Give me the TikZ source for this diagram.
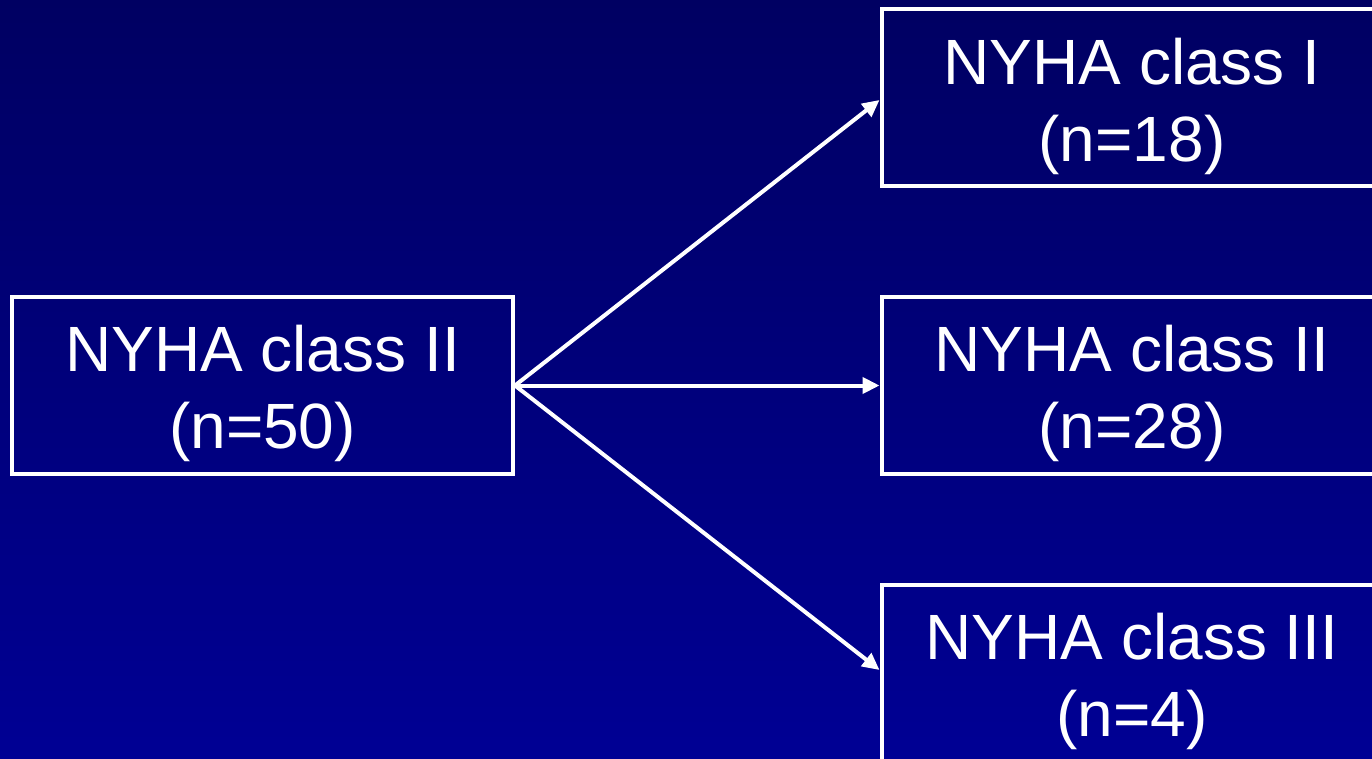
\documentclass[tikz,border=0pt]{standalone}
\usepackage{fontspec}
\setmainfont{Liberation Sans}
\usetikzlibrary{arrows.meta}
\definecolor{bgtop}{RGB}{0,0,98}
\definecolor{bgbot}{RGB}{0,0,148}
\tikzset{
  box/.style={draw=white, line width=4pt, minimum width=501pt, minimum height=177pt,
    inner sep=0pt},
  txt/.style={inner sep=0pt, align=center, text=white, font=\fontsize{64pt}{77pt}\selectfont},
  conn/.style={draw=white, line width=4pt, -{Triangle[length=17pt,width=16pt]}}
}
\begin{document}
\begin{tikzpicture}[x=1pt,y=-1pt]
\useasboundingbox (0,0) rectangle (1372,759);
\shade[top color=bgtop, bottom color=bgbot] (0,0) rectangle (1372,759);
\clip (0,0) rectangle (1372,759);
\node[box] (src) at (262.5,385.5) {};
\node[box] (c1) at (1132,98) {};
\node[box] (c2) at (1132,385.5) {};
\node[box] (c3) at (1132,673.5) {};
\node[txt] (tsrc) at ([yshift=-8pt]src.center) {NYHA class II\\(n=50)};
\node[txt] (tc1) at ([yshift=-8pt]c1.center) {NYHA class I\\(n=18)};
\node[txt] (tc2) at ([yshift=-8pt]c2.center) {NYHA class II\\(n=28)};
\node[txt] (tc3) at ([yshift=-8pt]c3.center) {NYHA class III\\(n=4)};
\coordinate (o) at (src.east);
\draw[conn] (o) -- (c1.west |- 0,100);
\draw[conn] (o) -- (c2.west);
\draw[conn] (o) -- (c3.west |- 0,670);
\end{tikzpicture}
\end{document}
